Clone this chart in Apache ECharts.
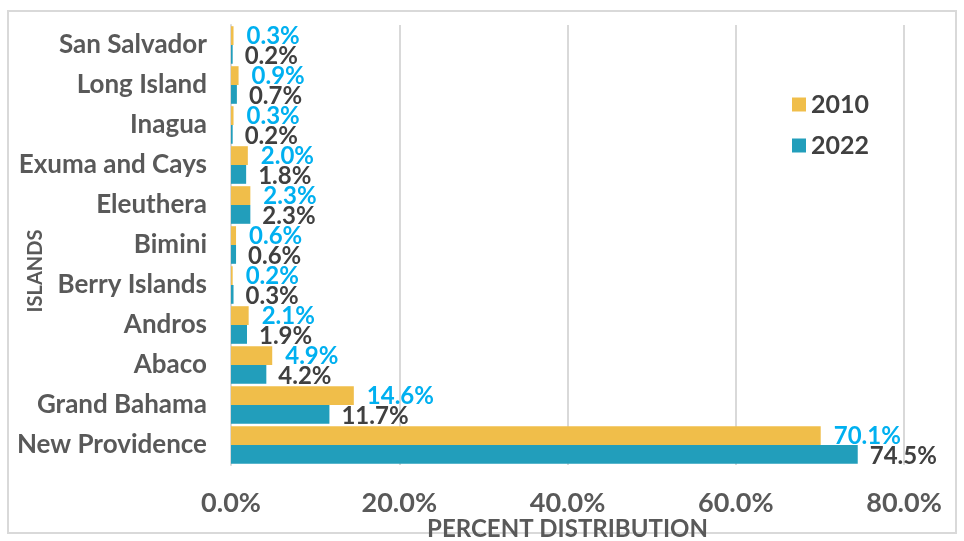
<!DOCTYPE html>
<html>
<head>
<meta charset="utf-8">
<script src="https://cdn.jsdelivr.net/npm/echarts@6/dist/echarts.min.js"></script>
<style>
  html, body { margin: 0; padding: 0; background: #fff; }
  #frame { position: absolute; left: 7px; top: 10px; width: 950px; height: 524px; border: 2px solid #d9d9d9; box-sizing: border-box; }
  #chart { width: 964px; height: 541px; }
</style>
</head>
<body>
<div id="frame"></div>
<div id="chart"></div>
<script>
// bottom to top, as the category axis draws them
const islands = ['New Providence', 'Grand Bahama', 'Abaco', 'Andros', 'Berry Islands', 'Bimini',
  'Eleuthera', 'Exuma and Cays', 'Inagua', 'Long Island', 'San Salvador'];
const pct2010 = [70.1, 14.6, 4.9, 2.1, 0.2, 0.6, 2.3, 2.0, 0.3, 0.9, 0.3];
const pct2022 = [74.5, 11.7, 4.2, 1.9, 0.3, 0.6, 2.3, 1.8, 0.2, 0.7, 0.2];
const xTicks = [0, 20, 40, 60, 80];

const font = 'Lato, "Open Sans", sans-serif';

const chart = echarts.init(document.getElementById('chart'));

chart.setOption({
  backgroundColor: 'transparent',
  textStyle: { fontFamily: font },
  legend: {
    orient: 'vertical',
    left: 787,
    top: 87,
    itemWidth: 14,
    itemHeight: 14,
    itemGap: 16,
    icon: 'rect',
    textStyle: { fontSize: 25, fontWeight: 'bold', color: '#404040', fontFamily: font },
    data: ['2010', '2022']
  },
  grid: { left: 231, right: 60, top: 25, bottom: 76, containLabel: false, outerBoundsMode: 'none' },
  xAxis: {
    type: 'value',
    min: xTicks[0],
    max: xTicks[xTicks.length - 1],
    interval: 20,
    name: 'PERCENT DISTRIBUTION',
    nameLocation: 'middle',
    nameGap: 52,
    nameMoveOverlap: false,
    nameTextStyle: { fontSize: 24, fontWeight: 'bold', color: '#595959', fontFamily: font },
    axisLine: { show: false },
    axisTick: { show: false },
    axisLabel: {
      fontSize: 27, fontWeight: 'bold', color: '#595959', margin: 25,
      formatter: v => v.toFixed(1) + '%'
    },
    splitLine: { lineStyle: { color: '#d9d9d9', width: 2 } }
  },
  yAxis: {
    type: 'category',
    data: islands,
    name: 'ISLANDS',
    nameLocation: 'middle',
    nameGap: 185,
    nameMoveOverlap: false,
    nameRotate: 90,
    nameTextStyle: { fontSize: 20, fontWeight: 'bold', color: '#595959', fontFamily: font, padding: [0, 52, 0, 0] },
    axisLine: { lineStyle: { color: '#d9d9d9', width: 2 } },
    axisTick: { show: false },
    axisLabel: { fontSize: 26, fontWeight: 'bold', color: '#595959', margin: 24 }
  },
  series: [
    {
      name: '2010',
      type: 'bar',
      data: pct2010,
      barGap: '0%',
      barCategoryGap: '6%',
      itemStyle: { color: '#F0BE4A' },
      label: {
        show: true, position: 'right', distance: 13, offset: [0, 1],
        fontSize: 24, fontWeight: 'bold', color: '#00B0F0',
        formatter: p => p.value.toFixed(1) + '%'
      }
    },
    {
      name: '2022',
      type: 'bar',
      data: pct2022,
      itemStyle: { color: '#229EBB' },
      label: {
        show: true, position: 'right', distance: 12, offset: [0, 2],
        fontSize: 24, fontWeight: 'bold', color: '#404040',
        formatter: p => p.value.toFixed(1) + '%'
      }
    }
  ]
});
</script>
</body>
</html>
